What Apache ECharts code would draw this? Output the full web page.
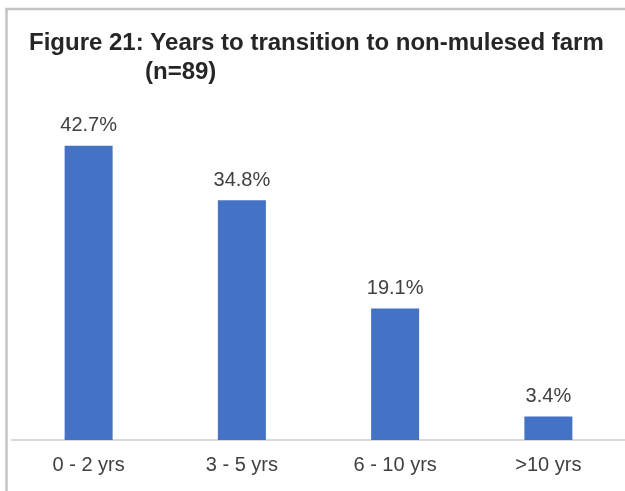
<!DOCTYPE html>
<html>
<head>
<meta charset="utf-8">
<script src="https://cdn.jsdelivr.net/npm/echarts@6/dist/echarts.min.js"></script>
<style>
  html, body { margin: 0; padding: 0; background: #ffffff; }
  #main { width: 625px; height: 491px; }
</style>
</head>
<body>
<div id="main"></div>
<script>
    var categories = ['0 - 2 yrs', '3 - 5 yrs', '6 - 10 yrs', '>10 yrs'];
    var shares = [42.7, 34.8, 19.1, 3.4];

    var chartDom = document.getElementById('main');
    var myChart = echarts.init(chartDom);

    var titleStyle = { fontFamily: 'Liberation Sans', fontSize: 24, fontWeight: 'bold', color: '#262626' };

    var option = {
        backgroundColor: '#ffffff',
        title: [
            { text: 'Figure 21: Years to transition to non-mulesed farm', left: 24, top: 26, textStyle: titleStyle },
            { text: '(n=89)', left: 140, top: 55, textStyle: titleStyle }
        ],
        graphic: [{
            type: 'rect',
            shape: { x: 6.5, y: 9, width: 650, height: 520 },
            style: { fill: 'none', stroke: '#c4c4c4', lineWidth: 2.5 },
            silent: true
        }],
        grid: {
            left: 12,
            right: -2,
            top: 130,
            bottom: 51,
            containLabel: false
        },
        xAxis: {
            type: 'category',
            data: categories,
            axisLine: { lineStyle: { color: '#d9d9d9', width: 2 } },
            axisTick: { show: false },
            axisLabel: {
                margin: 15,
                fontFamily: 'Liberation Sans',
                fontSize: 20,
                color: '#404040'
            }
        },
        yAxis: {
            type: 'value',
            min: 0,
            max: 45,
            show: false,
            splitLine: { show: false }
        },
        series: [{
            type: 'bar',
            data: shares,
            barWidth: 48,
            itemStyle: { color: '#4472C4' },
            label: {
                show: true,
                position: 'top',
                distance: 10,
                formatter: function (p) { return p.value.toFixed(1) + '%'; },
                fontFamily: 'Liberation Sans',
                fontSize: 20,
                color: '#404040'
            }
        }]
    };

    myChart.setOption(option);
</script>
</body>
</html>
